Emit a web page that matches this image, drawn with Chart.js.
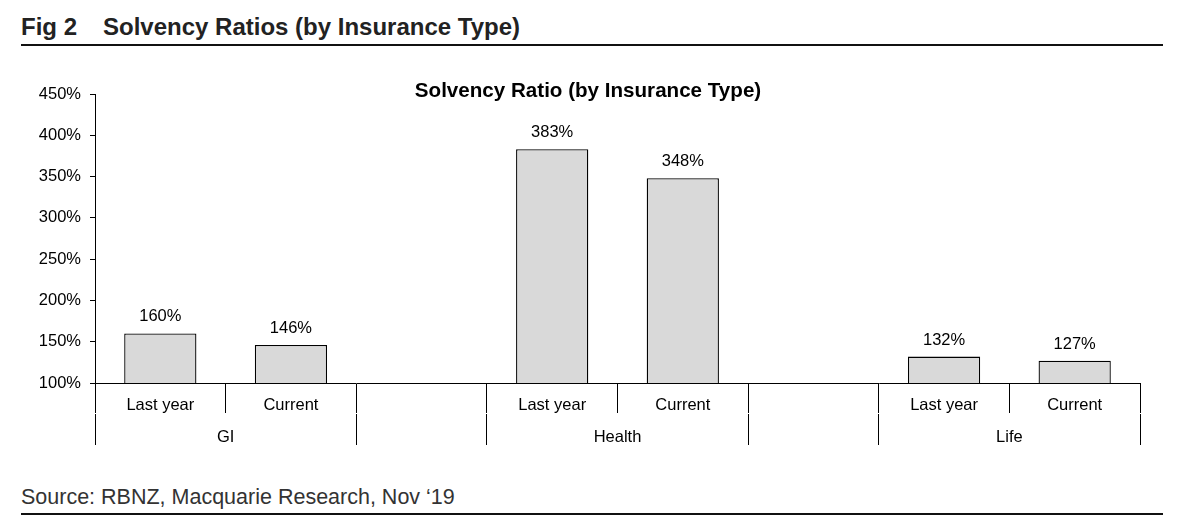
<!DOCTYPE html>
<html>
<head>
<meta charset="utf-8">
<script src="https://cdn.jsdelivr.net/npm/chart.js@4.4.0/dist/chart.umd.min.js"></script>
<style>
  body { margin: 0; width: 1182px; height: 523px; background: #fff; position: relative; overflow: hidden;
         font-family: 'Liberation Sans', Arial, sans-serif; }
  #head { position: absolute; left: 21px; top: 15px; font-weight: bold; font-size: 24px; line-height: 24px;
          color: #222; white-space: nowrap; }
  #head .fig { display: inline-block; width: 82px; }
  .rule { position: absolute; left: 21px; width: 1142px; background: #111; }
  #foot { position: absolute; left: 21px; top: 487px; font-size: 21.5px; line-height: 21px; color: #333; white-space: nowrap; }
  #box { position: absolute; left: 0; top: 60px; width: 1182px; height: 400px; }
</style>
</head>
<body>
<div id="head"><span class="fig">Fig 2</span>Solvency Ratios (by Insurance Type)</div>
<div class="rule" style="top:44px;height:2px"></div>
<div id="box"><canvas id="solvencyChart"></canvas></div>
<div id="foot">Source: RBNZ, Macquarie Research, Nov ‘19</div>
<div class="rule" style="top:513px;height:1.5px"></div>

<script>
// data
const categories = ['Last year', 'Current', '', 'Last year', 'Current', '', 'Last year', 'Current'];
const ratios = [160, 146, null, 383, 348, null, 132, 127];
const groups = ['GI', '', 'Health', '', 'Life'];
const groupSizes = [2, 1, 2, 1, 2];
const yTicks = [100, 150, 200, 250, 300, 350, 400, 450];
const chartTitle = 'Solvency Ratio (by Insurance Type)';

// group edges / middles in category units
const groupEdges = [0];
groupSizes.forEach(n => groupEdges.push(groupEdges[groupEdges.length - 1] + n));
const groupMids = groupSizes.map((n, i) => groupEdges[i] + n / 2);
const groupTicks = groupEdges.concat(groupMids).sort((a, b) => a - b);

const font = { family: "'Liberation Sans', Arial, sans-serif", size: 16.5 };

const titlePlugin = {
    id: 'titlePlugin',
    afterDraw(chart) {
        const c = chart.ctx;
        c.save();
        c.font = "bold 20.6px 'Liberation Sans', Arial, sans-serif";
        c.fillStyle = '#000';
        c.textAlign = 'center';
        c.textBaseline = 'alphabetic';
        c.fillText(chartTitle, 588, 37);
        c.restore();
    }
};

const valueLabels = {
    id: 'valueLabels',
    afterDatasetsDraw(chart) {
        const c = chart.ctx;
        c.save();
        c.font = "16.5px 'Liberation Sans', Arial, sans-serif";
        c.fillStyle = '#000';
        c.textAlign = 'center';
        c.textBaseline = 'alphabetic';
        chart.getDatasetMeta(0).data.forEach((bar, i) => {
            if (ratios[i] == null) return;
            c.fillText(ratios[i] + '%', bar.x, bar.y - 12);
        });
        c.restore();
    }
};

document.addEventListener('DOMContentLoaded', function() {
    new Chart(document.getElementById('solvencyChart').getContext('2d'), {
        type: 'bar',
        data: {
            labels: categories,
            datasets: [{
                data: ratios,
                backgroundColor: '#d9d9d9',
                borderColor: '#000',
                borderWidth: 1.3,
                categoryPercentage: 1,
                barPercentage: 0.553
            }]
        },
        options: {
            responsive: true,
            maintainAspectRatio: false,
            animation: false,
            layout: { padding: { top: 34, left: 0, right: 42, bottom: 15 } },
            plugins: {
                legend: { display: false },
                tooltip: { enabled: false }
            },
            scales: {
                y: {
                    min: 100,
                    max: 450,
                    afterBuildTicks: s => { s.ticks = yTicks.map(v => ({ value: v })); },
                    afterFit: s => { s.width = 95; },
                    ticks: {
                        color: '#000',
                        font: font,
                        padding: 9,
                        callback: v => v + '%'
                    },
                    grid: { drawOnChartArea: false, tickLength: 5, color: '#000' },
                    border: { color: '#000', width: 1 }
                },
                x: {
                    position: 'bottom',
                    afterFit: s => { s.height = 31; },
                    ticks: { color: '#000', font: font, padding: -17, maxRotation: 0, autoSkip: false },
                    grid: { drawOnChartArea: false, offset: true, tickLength: 30, color: '#000' },
                    border: { color: '#000', width: 1 }
                },
                x2: {
                    type: 'linear',
                    position: 'bottom',
                    offset: false,
                    min: 0,
                    max: categories.length,
                    afterBuildTicks: s => { s.ticks = groupTicks.map(v => ({ value: v })); },
                    afterFit: s => { s.height = 31; },
                    ticks: {
                        color: '#000',
                        font: font,
                        padding: -17,
                        maxRotation: 0,
                        autoSkip: false,
                        callback: v => {
                            const i = groupMids.indexOf(v);
                            return i >= 0 ? groups[i] : '';
                        }
                    },
                    grid: {
                        drawOnChartArea: false,
                        offset: false,
                        tickLength: 31,
                        color: ctx => (ctx.tick && groupMids.includes(ctx.tick.value)) ? 'rgba(0,0,0,0)' : '#000'
                    },
                    border: { display: false }
                }
            }
        },
        plugins: [titlePlugin, valueLabels]
    });
});
</script>
</body>
</html>
